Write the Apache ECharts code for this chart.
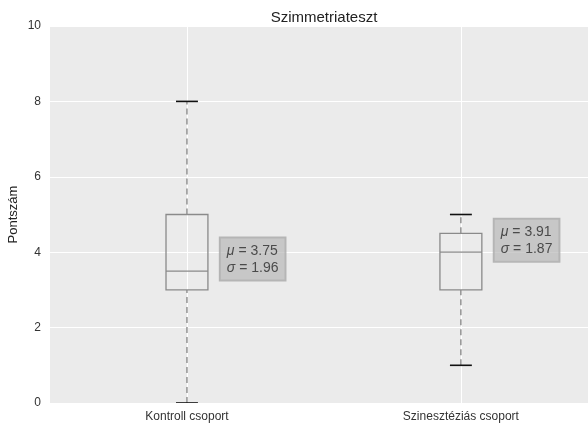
<!DOCTYPE html>
<html>
<head>
<meta charset="utf-8">
<script src="https://cdn.jsdelivr.net/npm/echarts@6/dist/echarts.min.js"></script>
<style>
  html, body { margin: 0; padding: 0; background: #ffffff; }
  #chart { width: 588px; height: 429px; }
</style>
</head>
<body>
<div id="chart"></div>
<script>
// Groups and their five-number summaries
const categories = ['Kontroll csoport', 'Szinesztéziás csoport'];
const positions = [1, 2];
const whiskerLow = [0, 1];
const q1 = [3, 3];
const median = [3.5, 4];
const q3 = [5, 4.5];
const whiskerHigh = [8, 5];

// Summary statistics shown next to each box
const means = [3.75, 3.91];
const sds = [1.96, 1.87];
const noteX = [1.12, 2.12];
const noteY = [3.82, 4.32];

const yTicks = [0, 2, 4, 6, 8, 10];

const FONT = 'Liberation Sans, Arial, sans-serif';

const boxData = positions.map((p, i) => [p, whiskerLow[i], q1[i], median[i], q3[i], whiskerHigh[i]]);
const noteData = positions.map((p, i) => [noteX[i], noteY[i], means[i], sds[i]]);

const chart = echarts.init(document.getElementById('chart'), null, { renderer: 'canvas' });

chart.setOption({
  animation: false,
  backgroundColor: '#ffffff',
  title: {
    text: 'Szimmetriateszt',
    left: 319,
    textAlign: 'center',
    top: 5,
    textStyle: { fontFamily: FONT, fontSize: 15, fontWeight: 'normal', color: '#222222' }
  },
  grid: {
    left: 50, right: 0, top: 26, bottom: 26,
    outerBoundsMode: 'none',
    containLabel: false,
    show: true, backgroundColor: '#ebebeb', borderWidth: 0
  },
  xAxis: {
    type: 'value',
    min: 0.5,
    max: 2.464,
    axisLine: { show: false },
    axisTick: { show: false, customValues: positions },
    axisLabel: {
      customValues: positions,
      margin: 8,
      fontFamily: FONT, fontSize: 12, color: '#333333',
      formatter: v => categories[positions.indexOf(v)] || ''
    },
    splitLine: { show: true, lineStyle: { color: '#ffffff', width: 1 } }
  },
  yAxis: {
    type: 'value',
    min: 0,
    max: 10,
    interval: 2,
    name: 'Pontszám',
    nameLocation: 'middle',
    nameGap: 30,
    nameMoveOverlap: false,
    nameTextStyle: { fontFamily: FONT, fontSize: 13, color: '#222222' },
    axisLine: { show: false },
    axisTick: { show: false },
    axisLabel: {
      margin: 9,
      fontFamily: FONT, fontSize: 12, color: '#333333',
      formatter: v => (yTicks.indexOf(v) >= 0 ? String(v) : '')
    },
    splitLine: { show: true, lineStyle: { color: '#ffffff', width: 1 } }
  },
  series: [
    {
      type: 'custom',
      clip: true,
      data: boxData,
      encode: { x: 0, y: [1, 2, 3, 4, 5] },
      renderItem: function (params, api) {
        const x = api.value(0);
        const boxW = api.size([0.153, 0])[0];
        const capW = api.size([0.08, 0])[0];
        const pLow = api.coord([x, api.value(1)]);
        const pQ1 = api.coord([x, api.value(2)]);
        const pMed = api.coord([x, api.value(3)]);
        const pQ3 = api.coord([x, api.value(4)]);
        const pHigh = api.coord([x, api.value(5)]);
        const cx = pQ1[0];
        const dashStyle = { stroke: '#7a7a7a', lineWidth: 1.2, lineDash: [6, 4], fill: null };
        const boxStyle = { stroke: '#8a8a8a', lineWidth: 1.3, fill: null };
        const capStyle = { stroke: '#111111', lineWidth: 1.6 };
        return {
          type: 'group',
          children: [
            { type: 'line', shape: { x1: cx, y1: pQ3[1], x2: cx, y2: pHigh[1] }, style: dashStyle },
            { type: 'line', shape: { x1: cx, y1: pLow[1], x2: cx, y2: pQ1[1] }, style: dashStyle },
            { type: 'rect', shape: { x: cx - boxW / 2, y: pQ3[1], width: boxW, height: pQ1[1] - pQ3[1] }, style: boxStyle },
            { type: 'line', shape: { x1: cx - boxW / 2, y1: pMed[1], x2: cx + boxW / 2, y2: pMed[1] }, style: boxStyle },
            { type: 'line', shape: { x1: cx - capW / 2, y1: pHigh[1], x2: cx + capW / 2, y2: pHigh[1] }, style: capStyle },
            { type: 'line', shape: { x1: cx - capW / 2, y1: pLow[1], x2: cx + capW / 2, y2: pLow[1] }, style: capStyle }
          ]
        };
      }
    },
    {
      type: 'scatter',
      symbolSize: 0,
      data: noteData,
      encode: { x: 0, y: 1 },
      label: {
        show: true,
        position: 'right',
        distance: 0,
        backgroundColor: 'rgba(182,182,182,0.85)',
        borderColor: '#a8a8a8',
        borderWidth: 1,
        padding: [5, 7, 4, 7],
        lineHeight: 17,
        fontFamily: FONT,
        fontSize: 14,
        color: '#2a2a2a',
        formatter: p => '{i|μ} = ' + p.value[2].toFixed(2) + '\n{i|σ} = ' + p.value[3].toFixed(2),
        rich: {
          i: { fontStyle: 'italic', fontFamily: FONT, fontSize: 14, color: '#2a2a2a', lineHeight: 17 }
        }
      }
    }
  ]
});
</script>
</body>
</html>
